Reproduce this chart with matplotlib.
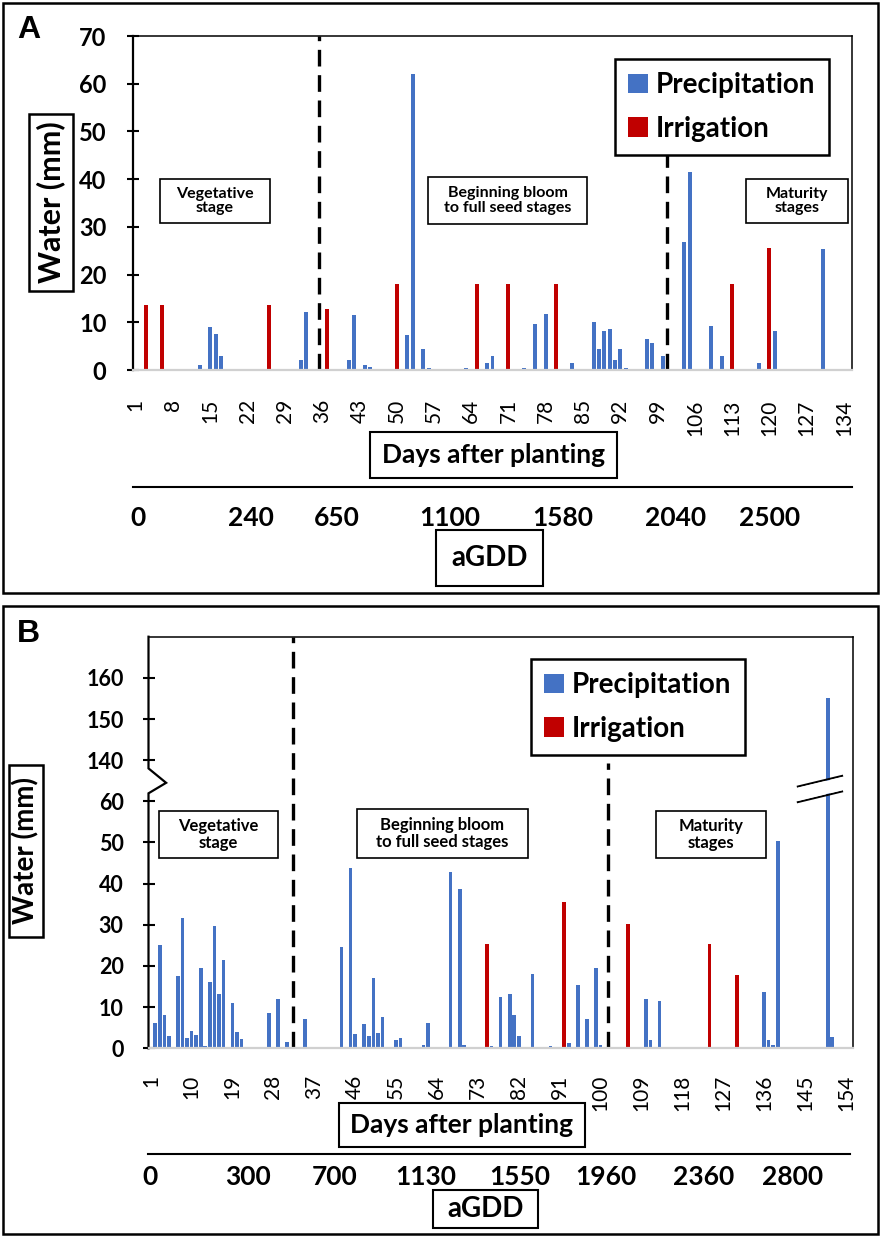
import numpy as np
import matplotlib
matplotlib.use("Agg")
import matplotlib.pyplot as plt
from matplotlib.patches import Rectangle
from matplotlib.lines import Line2D

plt.rcParams["font.family"] = ["Lato", "DejaVu Sans"]

# ---- panel A data (days after planting, mm) ----
precip_a_days = [13, 14, 15, 16, 17, 32, 33, 41, 42, 44, 45, 52, 53, 54, 55, 56, 63, 67, 68,
                 74, 76, 78, 83, 87, 88, 89, 90, 91, 92, 93, 97, 98, 100, 104, 105, 109, 111,
                 118, 121, 130]
precip_a_mm = [1.0, 0.3, 9.1, 7.5, 2.9, 2.2, 12.2, 2.0, 11.5, 1.0, 0.7, 7.3, 62.1, 0.3, 4.3, 0.5,
               0.5, 1.4, 2.9, 0.5, 9.6, 11.7, 1.4, 10.1, 4.5, 8.2, 8.5, 2.1, 4.3, 0.5, 6.4, 5.6,
               2.9, 26.9, 41.5, 9.3, 2.9, 1.4, 8.2, 25.3]
irrig_a_days = [3, 6, 26, 37, 50, 65, 71, 80, 113, 120]
irrig_a_mm = [13.6, 13.6, 13.6, 12.8, 18.1, 18.1, 18.1, 18.1, 18.1, 25.5]
n_days_a = 135
xticks_a = list(range(1, 135, 7))
stage_a = [35.5, 100.8]
agdd_a = ["0", "240", "650", "1100", "1580", "2040", "2500"]

# ---- panel B data ----
precip_b_days = [2, 3, 4, 5, 7, 8, 9, 10, 11, 12, 13, 14, 15, 16, 17, 18, 19, 20, 21, 27, 28,
                 29, 30, 31, 35, 43, 44, 45, 46, 48, 49, 50, 51, 52, 53, 55, 56, 61, 62, 65, 67,
                 69, 70, 76, 78, 79, 80, 81, 82, 85, 89, 93, 95, 97, 99, 100, 110, 111, 113,
                 114, 136, 137, 138, 139, 140, 149, 150, 151]
precip_b_mm = [6.2, 25.2, 8.1, 3.0, 17.5, 31.7, 2.4, 4.2, 3.2, 19.4, 0.6, 16.0, 29.8, 13.1, 21.4,
               0.4, 11.1, 3.9, 2.2, 8.5, 0.4, 11.9, 0.4, 1.6, 7.1, 24.6, 0.4, 43.7, 3.4, 6.0,
               3.0, 17.2, 3.8, 7.7, 0.4, 2.0, 2.4, 0.8, 6.2, 0.4, 42.9, 38.7, 0.8, 0.6, 12.5,
               0.4, 13.1, 8.1, 3.0, 18.1, 0.6, 1.2, 15.5, 7.1, 19.4, 0.8, 11.9, 1.9, 11.4, 0.4,
               13.7, 1.9, 0.8, 50.4, 0.4, 0.4, 155.0, 2.7]
irrig_b_days = [75, 92, 106, 124, 130]
irrig_b_mm = [25.4, 35.5, 30.3, 25.4, 17.8]
n_days_b = 155
xticks_b = list(range(1, 155, 9))
stage_b = [32.4, 101.7]
agdd_b = ["0", "300", "700", "1130", "1550", "1960", "2360", "2800"]
yticks_b = [0, 10, 20, 30, 40, 50, 60, 140, 150, 160]

BLUE = "#4472C4"
RED = "#C00000"
W, H = 882, 1238

fig = plt.figure(figsize=(W / 100, H / 100), dpi=100)


def fx(x):
    return x / W


def fy(y):
    return 1 - y / H


def box(x0, y0, x1, y1, lw=1.2):
    fig.add_artist(Rectangle((fx(x0), fy(y1)), fx(x1) - fx(x0), fy(y0) - fy(y1),
                             transform=fig.transFigure, fill=False, ec="black", lw=lw))


def box_text(x0, y0, x1, y1, text, size, weight="bold", lw=1.2, rot=0):
    box(x0, y0, x1, y1, lw)
    fig.text(fx((x0 + x1) / 2), fy((y0 + y1) / 2), text, ha="center", va="center",
             fontsize=size, fontweight=weight, rotation=rot, linespacing=1.05)


def hline(x0, x1, y, lw=1.5):
    fig.add_artist(Line2D([fx(x0), fx(x1)], [fy(y), fy(y)], transform=fig.transFigure,
                          color="black", lw=lw))


def style_axes(ax, ytick_size, xpad, ypad):
    for s in ("top", "right"):
        ax.spines[s].set_color("black")
        ax.spines[s].set_linewidth(1.1)
    ax.spines["bottom"].set_color("#d0d0d0")
    ax.spines["bottom"].set_linewidth(1.6)
    ax.spines["left"].set_linewidth(1.6)
    ax.tick_params(axis="y", direction="inout", length=8, width=1.5, pad=ypad,
                   labelsize=ytick_size)
    ax.tick_params(axis="x", length=0, pad=xpad, labelsize=15)
    for lab in ax.get_yticklabels():
        lab.set_fontweight("bold")
    for lab in ax.get_xticklabels():
        lab.set_rotation(90)
        lab.set_va("top")
        lab.set_ha("center")


def add_legend(ax, handles, x0, y0):
    leg = ax.legend(handles=handles, loc="upper left", bbox_to_anchor=(fx(x0), fy(y0)),
                    bbox_transform=fig.transFigure, prop={"size": 20, "weight": "bold"},
                    frameon=True, fancybox=False, edgecolor="black", framealpha=1,
                    handlelength=0.7, handleheight=0.7, handletextpad=0.3,
                    labelspacing=0.62, borderpad=0.48, borderaxespad=0)
    leg.get_frame().set_linewidth(1.8)


# ================= Panel A =================
axA = fig.add_axes([fx(133), fy(370), fx(852) - fx(133), fy(36) - fy(370)])
bA1 = axA.bar(precip_a_days, precip_a_mm, width=0.75, color=BLUE, label="Precipitation")
bA2 = axA.bar(irrig_a_days, irrig_a_mm, width=0.75, color=RED, label="Irrigation")
axA.set_xlim(0.5, n_days_a + 0.5)
axA.set_ylim(0, 70)
axA.set_yticks(range(0, 71, 10))
axA.set_xticks(xticks_a)
axA.set_xticklabels([str(t) for t in xticks_a])
style_axes(axA, 17, 21, 15)
axA.axvline(stage_a[0], ymin=0, ymax=1, color="black", lw=2.4, ls=(0, (5, 2.6)))
axA.axvline(stage_a[1], ymin=0, ymax=0.659, color="black", lw=2.4, ls=(0, (5, 2.6)))
add_legend(axA, [bA1, bA2], 615, 59)

box(3, 3, 878, 593, lw=1.8)
fig.text(fx(29), fy(30), "A", fontsize=23, fontweight="bold", family="Liberation Sans",
         ha="center", va="center")
box_text(29, 114, 73, 291, "Water (mm)", 22, rot=90, lw=1.8)
box_text(160, 179, 270, 223, "Vegetative\nstage", 11.5)
box_text(428, 177, 587, 224, "Beginning bloom\nto full seed stages", 11.5)
box_text(746, 179, 848, 223, "Maturity\nstages", 11.5)
box_text(370, 432, 617, 478, "Days after planting", 19, lw=1.5)
hline(133, 852, 486.5)
agdd_a_x = [138, 251, 337, 450, 563, 676, 770]
for lab, x in zip(agdd_a, agdd_a_x):
    fig.text(fx(x), fy(518), lab, ha="center", va="center", fontsize=19, fontweight="bold")
box_text(436, 530, 543, 586, "aGDD", 20, lw=1.5)


# ================= Panel B =================
def fwd(v):
    v = np.asarray(v, dtype=float)
    return np.where(v <= 60, v, np.where(v < 140, 60 + (v - 60) / 8.0, v - 70))


def inv(t):
    t = np.asarray(t, dtype=float)
    return np.where(t <= 60, t, np.where(t < 70, 60 + (t - 60) * 8.0, t + 70))


axB = fig.add_axes([fx(148.5), fy(1048.3), fx(852.7) - fx(148.5), fy(636.7) - fy(1048.3)])
axB.set_yscale("function", functions=(fwd, inv))
bB1 = axB.bar(precip_b_days, precip_b_mm, width=0.8, color=BLUE, label="Precipitation")
bB2 = axB.bar(irrig_b_days, irrig_b_mm, width=0.8, color=RED, label="Irrigation")
axB.set_xlim(0.5, n_days_b + 0.5)
axB.set_ylim(0, 170)
axB.set_yticks(yticks_b)
axB.set_yticklabels([str(t) for t in yticks_b])
axB.yaxis.set_minor_locator(matplotlib.ticker.NullLocator())
axB.set_xticks(xticks_b)
axB.set_xticklabels([str(t) for t in xticks_b])
style_axes(axB, 15.5, 19, 14)
axB.spines["left"].set_visible(False)
# broken y axis with zigzag
axB.plot([0, 0, 0.025, 0, 0], [0, 0.6195, 0.645, 0.680, 1], transform=axB.transAxes,
         color="black", lw=1.6, clip_on=False, solid_joinstyle="miter")
# break marks on the tall bar
for y0 in (0.598, 0.636):
    axB.plot([0.922, 0.985], [y0, y0 + 0.026], transform=axB.transAxes, color="black",
             lw=1.4, clip_on=False)
axB.fill([0.922, 0.985, 0.985, 0.922], [0.601, 0.627, 0.659, 0.633],
         transform=axB.transAxes, color="white", zorder=3, lw=0)
axB.axvline(stage_b[0], ymin=0, ymax=1, color="black", lw=2.4, ls=(0, (5, 2.6)))
axB.axvline(stage_b[1], ymin=0, ymax=0.694, color="black", lw=2.4, ls=(0, (5, 2.6)))
add_legend(axB, [bB1, bB2], 531, 659)

box(3, 606, 878, 1234, lw=1.8)
fig.text(fx(28), fy(634), "B", fontsize=23, fontweight="bold", family="Liberation Sans",
         ha="center", va="center")
box_text(9, 765, 43, 937, "Water (mm)", 20, rot=90, lw=1.8)
box_text(159, 811, 278, 858, "Vegetative\nstage", 12)
box_text(357, 809, 528, 858, "Beginning bloom\nto full seed stages", 12)
box_text(656, 811, 766, 858, "Maturity\nstages", 12)
box_text(339, 1103, 585, 1147, "Days after planting", 19, lw=1.5)
hline(148, 850, 1154.3)
agdd_b_x = [150, 248, 335, 426, 520, 606, 704, 793]
for lab, x in zip(agdd_b, agdd_b_x):
    fig.text(fx(x), fy(1177), lab, ha="center", va="center", fontsize=19, fontweight="bold")
box_text(433, 1190, 538, 1228, "aGDD", 20, lw=1.5)

fig.savefig("out.png", dpi=100)
